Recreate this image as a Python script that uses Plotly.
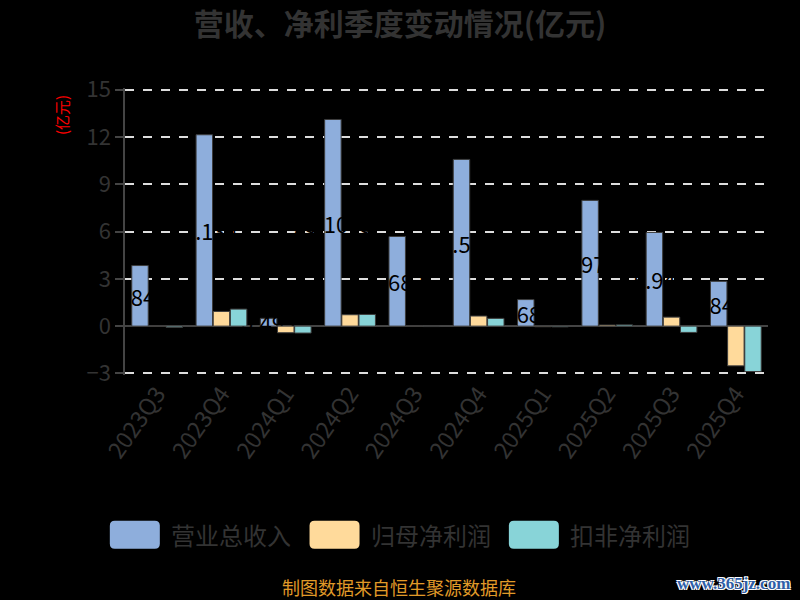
import plotly.graph_objects as go

quarters = ['2023Q3', '2023Q4', '2024Q1', '2024Q2', '2024Q3',
            '2024Q4', '2025Q1', '2025Q2', '2025Q3', '2025Q4']
revenue = [3.841, 12.134, 0.493, 13.1045, 5.683, 10.571, 1.683, 7.973, 5.94, 2.841]
net_profit = [0.01, 0.93, -0.42, 0.72, 0.01, 0.64, -0.04, 0.07, 0.57, -2.52]
deducted_profit = [-0.08, 1.08, -0.44, 0.74, -0.03, 0.49, -0.05, 0.08, -0.40, -2.88]
series_names = ['营业总收入', '归母净利润', '扣非净利润']
colors = ['#8EAEDC', '#FFDA9B', '#88D4D8']

font_family = 'Noto Sans CJK SC, Noto Sans, sans-serif'
bar_line = dict(color='#3C3C3C', width=1)

fig = go.Figure()

# 营业总收入，黑色标签只在柱子上看得见
fig.add_trace(go.Bar(
    name=series_names[0], x=quarters, y=revenue,
    marker=dict(color=colors[0], line=bar_line),
    text=[str(v) for v in revenue],
    textposition='inside', textangle=0, insidetextanchor='middle',
    constraintext='none',
    insidetextfont=dict(color='black', size=22, family=font_family),
))
fig.add_trace(go.Bar(
    name=series_names[1], x=quarters, y=net_profit,
    marker=dict(color=colors[1], line=bar_line),
))
fig.add_trace(go.Bar(
    name=series_names[2], x=quarters, y=deducted_profit,
    marker=dict(color=colors[2], line=bar_line),
))

# 自定义图例：圆角色块 + 文字
shapes = []
annotations = []
legend_x = [-0.0236, 0.287, 0.597]   # 图例色块左边位置(paper)
legend_y = -0.557
for name, color, lx in zip(series_names, colors, legend_x):
    shapes.append(dict(
        type='path', xref='paper', yref='paper',
        xsizemode='pixel', ysizemode='pixel', xanchor=lx, yanchor=legend_y,
        path='M 5,-14 L 45,-14 Q 50,-14 50,-9 L 50,9 Q 50,14 45,14 '
             'L 5,14 Q 0,14 0,9 L 0,-9 Q 0,-14 5,-14 Z',
        fillcolor=color, line=dict(width=0),
    ))
    annotations.append(dict(
        text=name, xref='paper', yref='paper', x=lx + 0.092, y=legend_y,
        xanchor='left', yanchor='middle', showarrow=False,
        font=dict(size=24, color='#333333'),
    ))

annotations += [
    dict(text='(亿元)', xref='paper', yref='paper', x=-0.098, y=0.906,
         xanchor='center', yanchor='middle', textangle=-90, showarrow=False,
         font=dict(size=15, color='red')),
    dict(text='制图数据来自恒生聚源数据库', xref='paper', yref='paper',
         x=0.426, y=-0.738, xanchor='center', yanchor='middle', showarrow=False,
         borderpad=0, font=dict(size=18, color='#E09A28')),
    dict(text='<b>www.365jz.com</b>', xref='paper', yref='paper',
         x=0.947, y=-0.725, xanchor='center', yanchor='middle', showarrow=False,
         font=dict(size=17, color='#2F5FA8', family='Liberation Serif',
                   shadow='-1px -1px 0 #fff, 1px -1px 0 #fff, '
                          '-1px 1px 0 #fff, 1px 1px 0 #fff')),
]

fig.update_layout(
    width=800, height=600,
    paper_bgcolor='black', plot_bgcolor='black',
    font=dict(family=font_family, color='#333333'),
    title=dict(
        text='<b>营收、净利季度变动情况(亿元)</b>',
        x=0.5, xanchor='center', y=0.96, yanchor='middle',
        font=dict(size=30, color='#333333'),
    ),
    margin=dict(l=125, r=32, t=88, b=225),
    barmode='group', bargap=0.2, bargroupgap=0.04,
    showlegend=False,
    xaxis=dict(
        tickangle=-55, tickfont=dict(size=23, color='#333333'),
        showline=False, ticks='', showgrid=False,
    ),
    # 0 轴上的类目轴线和刻度
    xaxis2=dict(
        matches='x', overlaying='x', anchor='free', position=3.1 / 18.2,
        showticklabels=False, showline=True, linecolor='#444444', linewidth=1.5,
        ticks='outside', ticklen=7, tickcolor='#444444', tickwidth=1.5,
        tickson='boundaries', showgrid=False,
    ),
    yaxis=dict(
        range=[-3.1, 15.1], dtick=3, tick0=0,
        tickfont=dict(size=22, color='#333333'),
        showline=True, linecolor='#444444', linewidth=1.5,
        ticks='outside', ticklen=8, tickcolor='#444444', tickwidth=1.5,
        gridcolor='#DDDDDD', griddash='dash', gridwidth=1.5,
        zeroline=True, zerolinecolor='#444444', zerolinewidth=1.5,
    ),
    shapes=shapes,
    annotations=annotations,
)

fig.write_html('out.html', config={'displayModeBar': False},
               post_script="document.body.style.margin='0';"
                           "document.body.style.background='black';")
